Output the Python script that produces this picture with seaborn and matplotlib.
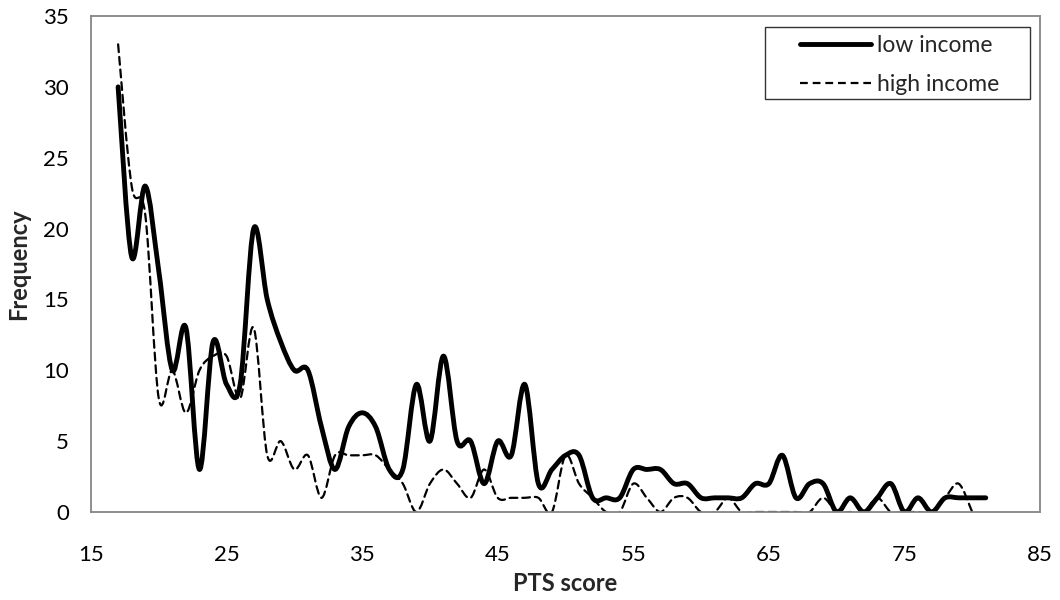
import numpy as np
import pandas as pd
import matplotlib
matplotlib.use("Agg")
import matplotlib.pyplot as plt
from matplotlib.path import Path
from matplotlib.patches import PathPatch, Rectangle
import seaborn as sns

# frequency of each PTS score
pts_low = list(range(17, 82))
freq_low = [30, 18, 23, 17, 10, 13, 3, 12, 9, 9,
            20, 15, 12, 10, 10, 6, 3, 6, 7, 6,
            3, 3, 9, 5, 11, 5, 5, 2, 5, 4,
            9, 2, 3, 4, 4, 1, 1, 1, 3, 3,
            3, 2, 2, 1, 1, 1, 1, 2, 2, 4,
            1, 2, 2, 0, 1, 0, 1, 2, 0, 1,
            0, 1, 1, 1, 1]
pts_high = list(range(17, 81))
freq_high = [33, 23, 21, 8, 10, 7, 10, 11, 11, 8,
             13, 4, 5, 3, 4, 1, 4, 4, 4, 4,
             3, 2, 0, 2, 3, 2, 1, 3, 1, 1,
             1, 1, 0, 4, 2, 1, 0, 0, 2, 1,
             0, 1, 1, 0, 0, 1, 0, 0, 0, 0,
             0, 0, 1, 0, 0, 0, 1, 0, 0, 0,
             0, 1, 2, 0]
series_names = ["low income", "high income"]
x_ticks = [15, 25, 35, 45, 55, 65, 75, 85]
y_ticks = [0, 5, 10, 15, 20, 25, 30, 35]

df = pd.concat([
    pd.DataFrame({"PTS score": pts_low, "Frequency": freq_low, "group": series_names[0]}),
    pd.DataFrame({"PTS score": pts_high, "Frequency": freq_high, "group": series_names[1]}),
])

sns.set_style("white")
plt.rcParams["font.family"] = ["Lato", "DejaVu Sans"]

DASH = (0, (3.5, 2.2))


def smooth_path(xy):
    # excel style smoothed line: cubic bezier through every point
    pts = np.asarray(xy, dtype=float)
    n = len(pts)
    verts = [pts[0]]
    codes = [Path.MOVETO]
    for i in range(n - 1):
        p0 = pts[i - 1] if i > 0 else pts[i]
        p1 = pts[i]
        p2 = pts[i + 1]
        p3 = pts[i + 2] if i + 2 < n else pts[i + 1]
        verts += [p1 + (p2 - p0) / 6, p2 - (p3 - p1) / 6, p2]
        codes += [Path.CURVE4] * 3
    return Path(verts, codes)


fig = plt.figure(figsize=(10.6, 6), dpi=100)
ax = fig.add_axes([91 / 1060, 1 - 512 / 600, 949 / 1060, 496 / 600])

styles = {"low income": dict(lw=3.5, ls="-"),
          "high income": dict(lw=1.6, ls=DASH)}

for name in series_names:
    sub = df[df["group"] == name]
    sns.lineplot(data=sub, x="PTS score", y="Frequency", color="black",
                 label=name, ax=ax, **styles[name])

leg = ax.legend(loc="upper left", bbox_to_anchor=(0.747, 0.961), frameon=False,
                fontsize=16.5, handlelength=3.1, handletextpad=0.26,
                labelspacing=0.77, borderpad=0, borderaxespad=0)

# swap the straight lines for smoothed curves
for line, name in zip(list(ax.lines), series_names):
    patch = PathPatch(smooth_path(line.get_xydata()), fill=False,
                      edgecolor="black", lw=styles[name]["lw"], ls=styles[name]["ls"],
                      capstyle="round", joinstyle="round", transform=ax.transData)
    ax.add_patch(patch)
    line.remove()

ax.add_patch(Rectangle((0.710, 0.833), 0.279, 0.145, transform=ax.transAxes,
                       fill=False, edgecolor="#333333", lw=1.0))

ax.set_xlim(15, 85)
ax.set_ylim(0, 35)
ax.set_xticks(x_ticks)
ax.set_yticks(y_ticks)
ax.tick_params(axis="both", direction="out", length=6, width=1.2, colors="#555555",
               labelcolor="black", labelsize=16)
ax.tick_params(axis="x", pad=18)
ax.tick_params(axis="y", pad=10)
for s in ax.spines.values():
    s.set_color("#868686")
    s.set_linewidth(1.3)
    s.set_visible(True)
ax.set_xlabel("PTS score", fontsize=17, fontweight="bold", labelpad=5)
ax.set_ylabel("Frequency", fontsize=17, fontweight="bold", labelpad=9)

fig.savefig("out.png", dpi=100)
